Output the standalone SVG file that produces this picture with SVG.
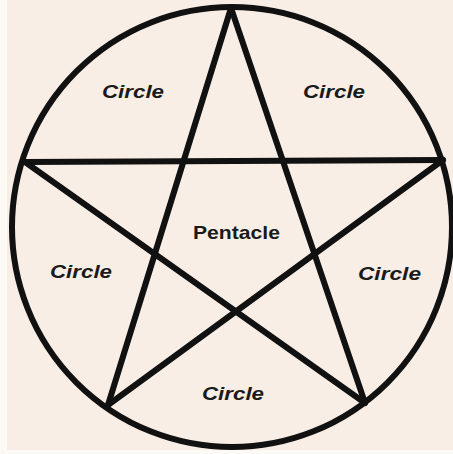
<svg xmlns="http://www.w3.org/2000/svg" width="453" height="454" viewBox="0 0 453 454">
<style>
.bg{fill:#f8eee5}
.ring{fill:none;stroke:#111;stroke-width:6}
.edge{stroke:#111;stroke-width:6;stroke-linecap:round;fill:none}
.lbl{font-family:"Liberation Sans",Arial,sans-serif;font-weight:bold;font-style:italic;font-size:18px;fill:#1a1a1a}
.main{font-family:"Liberation Sans",Arial,sans-serif;font-weight:bold;font-size:19px;fill:#1a1a1a}
</style>
<rect x="0" y="0" width="453" height="454" fill="#fdf9f5"/>
<rect class="bg" x="7" y="0" width="446" height="450"/>
<g id="circle">
<ellipse class="ring" cx="232" cy="227" rx="220" ry="220"/>
</g>
<g id="connectors">
<line class="edge" x1="231" y1="8" x2="108" y2="405"/>
<line class="edge" x1="231" y1="8" x2="365" y2="403"/>
<line class="edge" x1="25" y1="162" x2="443" y2="160"/>
<line class="edge" x1="25" y1="162" x2="365" y2="403"/>
<line class="edge" x1="443" y1="160" x2="108" y2="405"/>
</g>
<g id="label-top-left"><text class="lbl" x="102" y="98" textLength="62" lengthAdjust="spacingAndGlyphs">Circle</text></g>
<g id="label-top-right"><text class="lbl" x="303" y="98" textLength="62" lengthAdjust="spacingAndGlyphs">Circle</text></g>
<g id="label-left"><text class="lbl" x="50" y="278" textLength="62" lengthAdjust="spacingAndGlyphs">Circle</text></g>
<g id="label-right"><text class="lbl" x="358" y="280" textLength="63" lengthAdjust="spacingAndGlyphs">Circle</text></g>
<g id="label-bottom"><text class="lbl" x="202" y="400" textLength="62" lengthAdjust="spacingAndGlyphs">Circle</text></g>
<g id="pentacle"><text class="main" x="193" y="239" textLength="87" lengthAdjust="spacingAndGlyphs">Pentacle</text></g>
</svg>
